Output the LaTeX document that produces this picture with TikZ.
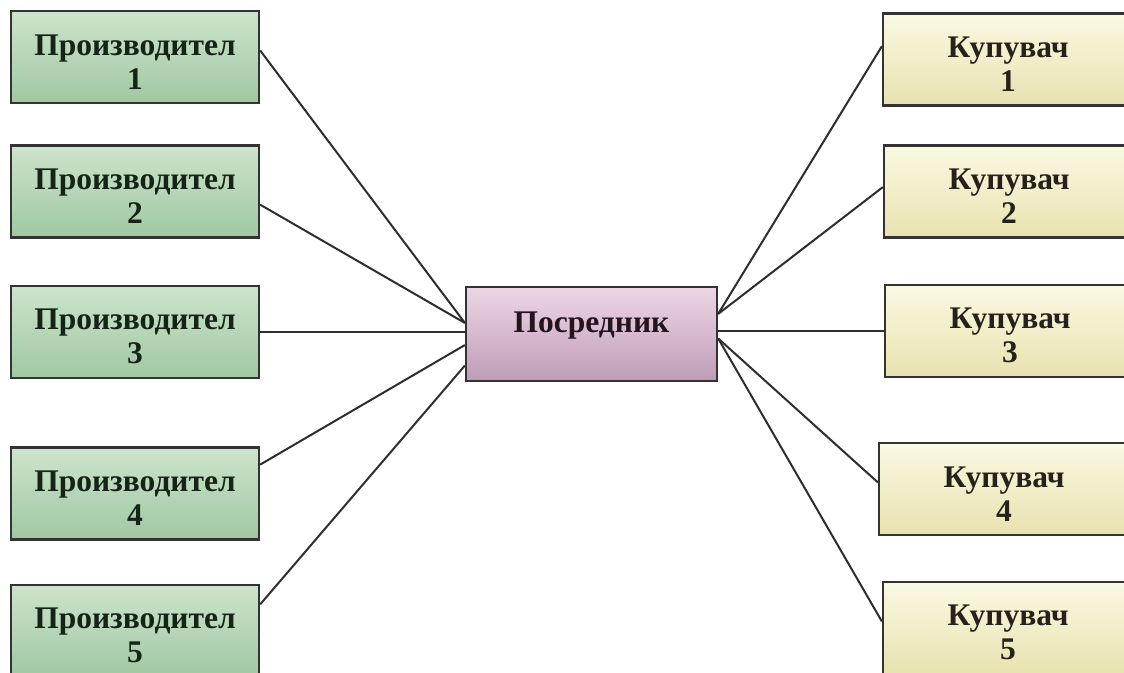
\documentclass[tikz,border=0pt]{standalone}
\usepackage{fontspec}
\setmainfont{Liberation Serif}
\begin{document}
\begin{tikzpicture}[x=1pt,y=-1pt,
  box/.style={draw=black!80, line width=2.3pt, minimum width=248pt,
    minimum height=92pt, inner sep=0pt, align=center,
    font=\fontsize{31.5}{34}\selectfont\bfseries},
  prod/.style={box, top color=prodtop, bottom color=prodbot, text=prodtext},
  buyer/.style={box, minimum width=250pt, top color=buytop, bottom color=buybot, text=buytext},
  mid/.style={box, minimum width=251pt, minimum height=94pt, top color=midtop, bottom color=midbot,
    text=midtext, text height=10pt, text depth=14pt},
  link/.style={draw=black!82, line width=2pt}]
\definecolor{prodtop}{RGB}{204,228,204}
\definecolor{prodbot}{RGB}{160,200,162}
\definecolor{prodtext}{RGB}{22,36,24}
\definecolor{buytop}{RGB}{250,249,226}
\definecolor{buybot}{RGB}{232,226,176}
\definecolor{buytext}{RGB}{36,34,26}
\definecolor{midtop}{RGB}{238,214,228}
\definecolor{midbot}{RGB}{190,156,184}
\definecolor{midtext}{RGB}{36,20,30}
\newcommand{\toppad}{\rule{0pt}{30pt}}
\clip (0,0) rectangle (1124,672);
\fill[white] (0,0) rectangle (1124,672);

% producers
\node[prod] (p1) at (135,57)    {\toppad Производител\\1};
\node[prod] (p2) at (135,191.5) {\toppad Производител\\2};
\node[prod] (p3) at (135,332)   {\toppad Производител\\3};
\node[prod] (p4) at (135,493.5) {\toppad Производител\\4};
\node[prod] (p5) at (135,631)   {\toppad Производител\\5};

% intermediary
\node[mid] (m) at (591.5,334) {Посредник};

% buyers
\node[buyer] (k1) at (1008,59.5)  {\toppad Купувач\\1};
\node[buyer] (k2) at (1009,191.5) {\toppad Купувач\\2};
\node[buyer] (k3) at (1010,331)   {\toppad Купувач\\3};
\node[buyer] (k4) at (1004,489)   {\toppad Купувач\\4};
\node[buyer] (k5) at (1008,628)   {\toppad Купувач\\5};

% links producer -> intermediary
\draw[link] (p1.3) -- (m.175);
\draw[link] (p2.-6) -- (m.175);
\draw[link] (p3.east) -- (p3.east -| m.west);
\draw[link] (p4.13) -- (m.185);
\draw[link] (p5.12.7) -- (m.194);

% links intermediary -> buyers
\draw[link] (m.9.5) -- (k1.174.3);
\draw[link] (m.9.5) -- (k2.178);
\draw[link] (k3.west -| m.east) -- (k3.west);
\draw[link] (m.-2) -- (k4.177);
\draw[link] (m.-2) -- (k5.177);
\end{tikzpicture}
\end{document}
